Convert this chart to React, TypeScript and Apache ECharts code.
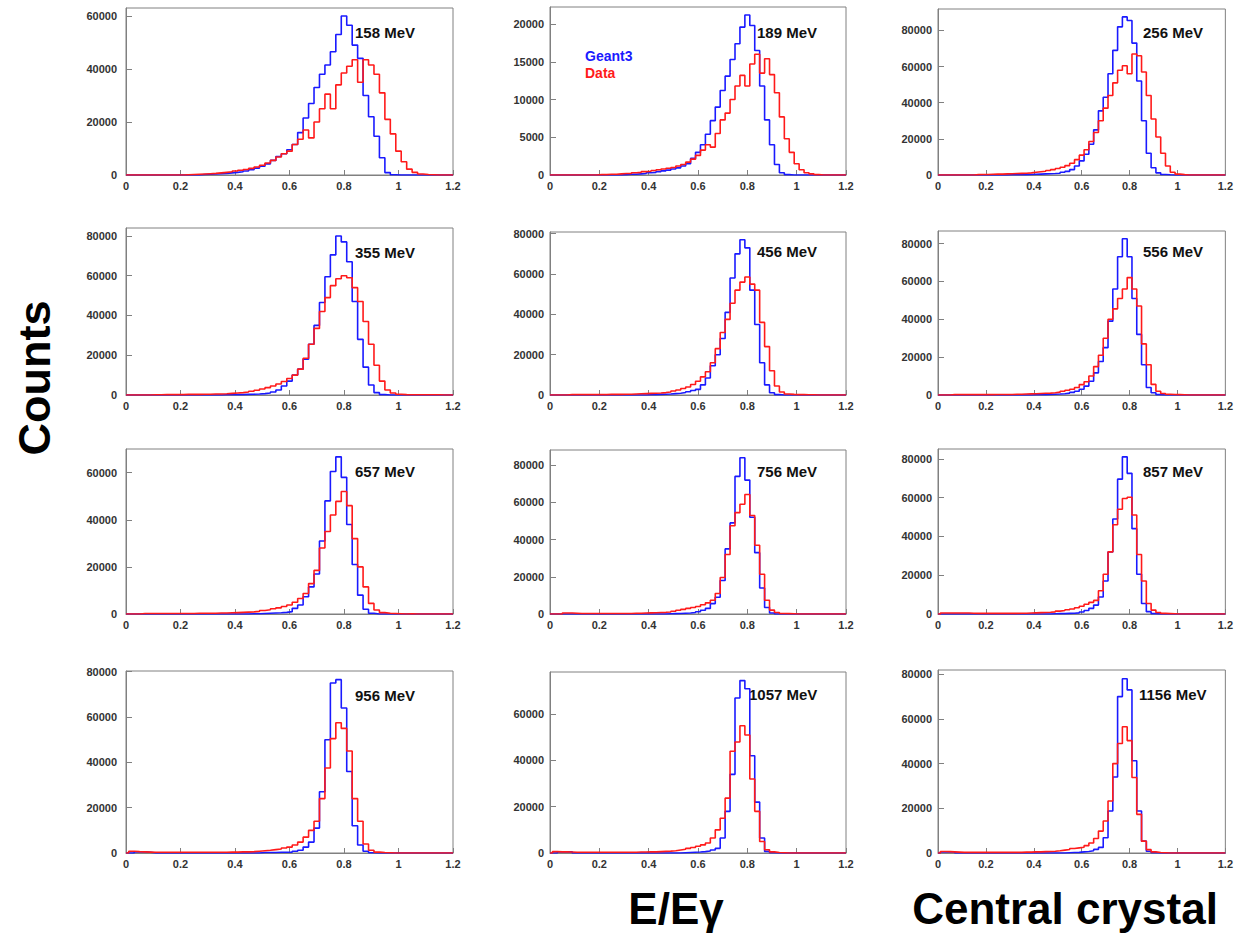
import React, { useEffect, useRef } from "react";
import * as echarts from "echarts";

// Histogram bins: centres at 0, 0.02, ..., 1.20 (61 bins, width 0.02). Counts in thousands.
const binWidth = 0.02;
const xTickLabels = ["0", "0.2", "0.4", "0.6", "0.8", "1", "1.2"];
const energyLabels = ["158 MeV", "189 MeV", "256 MeV", "355 MeV", "456 MeV", "556 MeV", "657 MeV", "756 MeV", "857 MeV", "956 MeV", "1057 MeV", "1156 MeV"];
const yTickStep = [20000, 5000, 20000, 20000, 20000, 20000, 20000, 20000, 20000, 20000, 20000, 20000];
const seriesNames = ["Geant3", "Data"];

const geant158 = [0,0,0,0,0,0,0,0,0,0, 0,0,0,0,0.2,0.3,0.4,0.5,0.6,0.8, 1.0,1.2,1.5,2.0,2.6,3.3,4.2,5.5,7.0,8.0, 9.5,11.5,16.0,21.5,27.0,33.0,38.0,41.5,46.5,53.0, 60.0,56.5,49.0,44.0,30.0,22.0,14.6,6.5,0.9,0.1, 0,0,0,0,0,0,0,0,0,0,0];
const data158 = [0,0,0,0,0,0,0,0,0,0, 0,0.1,0.2,0.3,0.4,0.5,0.6,0.8,1.0,1.2, 1.5,1.8,2.1,2.5,3.0,3.7,4.5,5.5,6.8,8.0, 9.0,11.5,13.5,17.0,14.0,20.0,25.0,30.5,25.0,34.0, 38.5,41.0,43.5,35.0,43.5,41.5,38.0,31.0,21.0,15.5, 9.0,5.0,2.2,1.0,0.4,0.2,0.1,0,0,0,0];

const geant189 = [0,0,0,0,0,0,0,0,0,0, 0,0,0,0,0,0.05,0.1,0.1,0.15,0.2, 0.3,0.35,0.45,0.55,0.65,0.8,0.95,1.2,1.5,2.2, 3.0,4.0,5.4,7.2,9.0,11.2,13.1,15.3,17.4,19.6, 21.2,19.8,16.5,11.8,7.3,4.0,1.4,0.3,0.05,0, 0,0,0,0,0,0,0,0,0,0,0];
const data189 = [0,0,0,0,0,0,0,0,0,0, 0.05,0.05,0.1,0.1,0.15,0.2,0.2,0.3,0.35,0.45, 0.5,0.6,0.7,0.8,0.9,1.0,1.2,1.4,1.7,2.1, 2.6,3.3,4.0,3.7,5.5,7.3,8.2,10.0,11.8,13.2, 11.8,14.7,16.0,13.5,15.4,13.3,10.9,7.7,4.8,3.0, 1.5,0.7,0.3,0.15,0.05,0,0,0,0,0,0];

const geant256 = [0,0,0,0,0,0,0,0,0,0, 0,0,0,0,0,0.1,0.1,0.2,0.2,0.3, 0.4,0.5,0.6,0.7,0.8,1.0,1.5,2.0,3.0,5.0, 7.8,11.5,17.0,25.0,35.5,43.0,56.0,69.0,82.0,87.5, 85.5,73.0,52.0,30.0,12.0,4.0,1.2,0.3,0.1,0, 0,0,0,0,0,0,0,0,0,0,0];
const data256 = [0,0,0,0,0,0,0,0,0.2,0.3, 0.3,0.4,0.5,0.5,0.6,0.7,0.8,0.9,1.0,1.2, 1.5,1.8,2.1,2.5,3.0,3.6,4.3,5.2,6.5,8.5, 11.0,14.0,18.5,23.5,30.0,37.0,44.0,51.0,58.0,60.5, 56.0,67.0,66.0,57.0,44.0,31.0,21.0,12.0,5.0,1.5, 0.5,0.2,0,0,0,0,0,0,0,0,0];

const geant355 = [0,0,0,0,0,0,0,0,0,0, 0,0,0,0,0,0,0,0,0.1,0.1, 0.2,0.2,0.3,0.4,0.5,0.7,1.0,1.5,2.5,4.5, 7.0,10.0,13.0,18.0,25.5,35.0,46.5,59.5,70.5,80.0, 77.0,67.0,47.0,28.0,14.0,5.0,1.2,0.2,0,0, 0,0,0,0,0,0,0,0,0,0,0];
const data355 = [0,0,0,0,0,0.1,0.1,0.2,0.2,0.2, 0.2,0.3,0.3,0.3,0.4,0.4,0.5,0.5,0.6,0.8, 1.0,1.2,1.5,1.9,2.4,3.0,3.7,4.5,5.5,6.8, 8.3,10.0,13.0,18.5,25.5,33.5,42.0,49.0,55.0,58.5, 60.0,59.0,54.0,47.0,37.0,25.5,15.0,7.0,2.5,1.0, 0.4,0.2,0.1,0.1,0.1,0.1,0.1,0.1,0,0,0];

const geant456 = [0,0,0,0,0,0,0,0,0,0, 0,0,0,0,0,0,0,0,0,0, 0.1,0.2,0.3,0.4,0.5,0.7,0.9,1.2,1.6,2.2, 2.8,5.0,8.4,14.5,20.0,28.0,41.0,58.0,70.0,77.0, 73.0,52.0,35.0,16.0,5.0,1.1,0.2,0,0,0, 0,0,0,0,0,0,0,0,0,0,0];
const data456 = [0,0,0,0,0.2,0.2,0.2,0.2,0.2,0.2, 0.2,0.2,0.3,0.3,0.3,0.4,0.4,0.5,0.6,0.7, 0.8,0.9,1.0,1.2,1.5,2.0,2.5,3.2,4.0,5.2, 6.8,9.0,11.5,16.0,23.0,31.0,37.5,45.5,52.0,56.0, 58.5,55.0,52.0,36.0,24.0,12.0,4.5,1.5,0.5,0.3, 0.2,0.2,0.1,0.1,0,0,0,0,0,0,0];

const geant556 = [0,0,0,0,0,0,0,0,0,0, 0,0,0,0,0,0,0,0,0,0, 0.1,0.1,0.2,0.3,0.4,0.5,0.7,1.0,1.4,2.0, 3.0,4.7,7.3,11.7,17.7,25.0,39.0,56.0,73.0,82.5, 73.0,51.0,32.0,16.0,4.0,1.2,0.2,0,0,0, 0,0,0,0,0,0,0,0,0,0,0];
const data556 = [0,0,0,0.2,0.2,0.2,0.2,0.2,0.2,0.2, 0.2,0.2,0.3,0.3,0.3,0.3,0.4,0.4,0.5,0.6, 0.7,0.8,0.9,1.0,1.2,1.5,2.0,2.5,3.0,4.0, 5.5,7.0,10.0,15.0,21.0,30.0,40.0,45.5,51.0,56.0, 62.0,56.0,47.0,27.0,16.0,5.6,2.0,0.8,0.4,0.3, 0.2,0.1,0,0,0,0,0,0,0,0,0];

const geant657 = [0,0,0,0,0,0,0,0,0,0, 0,0,0,0,0,0,0,0,0,0, 0,0,0,0.1,0.1,0.2,0.3,0.4,0.5,0.7, 1.0,2.4,3.8,7.3,11.5,17.0,31.0,48.0,60.5,66.7, 58.0,38.0,21.0,8.0,2.0,0.3,0,0,0,0, 0,0,0,0,0,0,0,0,0,0,0];
const data657 = [0,0,0,0.2,0.2,0.2,0.2,0.2,0.2,0.2, 0.2,0.2,0.2,0.3,0.3,0.3,0.3,0.4,0.4,0.5, 0.6,0.7,0.8,0.9,1.1,1.5,1.8,2.2,2.6,3.2, 3.8,5.0,6.6,8.7,12.9,18.5,28.0,35.0,42.0,47.8, 52.0,46.0,32.0,20.0,11.5,4.5,1.7,0.6,0.3,0.2, 0.1,0,0.1,0,0,0,0,0,0,0,0];

const geant756 = [0,0,0,0,0,0,0,0,0,0, 0,0,0,0,0,0,0,0,0,0, 0,0,0,0,0.1,0.2,0.3,0.4,0.5,0.8, 1.2,2.0,3.0,5.6,9.0,18.0,35.0,49.0,74.0,84.0, 72.0,52.0,33.0,14.0,3.5,0.5,0,0,0,0, 0,0,0,0,0,0,0,0,0,0,0];
const data756 = [0,0,0,0.5,0.5,0.4,0.3,0.3,0.3,0.3, 0.3,0.3,0.3,0.3,0.3,0.3,0.3,0.4,0.4,0.5, 0.6,0.7,0.8,0.9,1.1,1.5,2.0,2.5,3.0,3.5, 4.0,5.0,6.0,7.4,11.0,19.6,32.0,47.5,54.5,59.0, 64.3,53.0,37.0,21.4,7.4,2.1,0.8,0.3,0.2,0.1, 0,0,0,0,0,0,0,0,0,0,0];

const geant857 = [0,0,0,0,0,0,0,0,0,0, 0,0,0,0,0,0,0,0,0,0, 0,0,0,0,0.1,0.2,0.2,0.3,0.4,0.6, 1.0,1.8,2.9,4.6,8.8,17.0,32.0,49.0,69.5,81.0, 72.5,44.0,20.5,5.4,1.2,0.2,0,0,0,0, 0,0,0,0,0,0,0,0,0,0,0];
const data857 = [0,0.5,0.5,0.5,0.5,0.5,0.5,0.4,0.3,0.3, 0.3,0.3,0.3,0.3,0.3,0.3,0.3,0.4,0.4,0.5, 0.6,0.7,0.8,0.9,1.1,1.5,1.8,2.2,2.6,3.2, 4.0,5.0,6.0,7.0,12.0,20.5,32.0,46.0,54.0,59.5, 60.2,51.0,30.7,17.0,5.4,2.0,0.8,0.3,0.2,0.1, 0,0,0,0,0,0,0,0,0,0,0];

const geant956 = [0,0,0.5,0.5,0.3,0,0,0,0,0, 0,0,0,0,0,0,0,0,0,0, 0,0,0,0,0,0.2,0.2,0.2,0.3,0.3, 0.4,0.8,1.2,2.6,4.8,11.0,27.0,50.0,75.0,76.5, 64.0,36.0,12.0,3.5,0.8,0.1,0,0,0,0, 0,0,0,0,0,0,0,0,0,0,0];
const data956 = [0,0.8,0.6,0.5,0.4,0.3,0.3,0.3,0.3,0.3, 0.3,0.3,0.3,0.3,0.3,0.3,0.3,0.3,0.3,0.4, 0.4,0.5,0.5,0.6,0.8,1.0,1.2,1.5,1.8,2.2, 2.6,3.5,4.8,7.0,10.0,14.0,24.0,37.5,50.5,57.5, 55.0,45.0,24.0,14.0,4.0,1.2,0.4,0.2,0.1,0, 0,0,0,0,0,0,0,0,0,0,0];

const geant1057 = [0,0,0.5,0.5,0.5,0,0,0,0,0, 0,0,0,0,0,0,0,0,0,0, 0,0,0,0,0,0,0,0.1,0.2,0.3, 0.4,0.6,0.9,1.3,2.0,6.5,18.0,34.0,67.0,74.5, 71.0,42.0,22.0,6.5,0.7,0.1,0,0,0,0, 0,0,0,0,0,0,0,0,0,0,0];
const data1057 = [0,0.6,0.5,0.5,0.4,0.3,0.3,0.3,0.3,0.3, 0.3,0.3,0.3,0.3,0.3,0.3,0.3,0.3,0.4,0.4, 0.5,0.5,0.6,0.7,0.8,1.0,1.3,1.6,2.0,2.4, 2.9,3.5,4.3,6.5,10.0,15.0,23.7,44.0,48.0,55.0, 51.0,32.0,18.0,5.0,1.4,0.5,0.2,0.1,0,0, 0,0,0,0,0,0,0,0,0,0,0];

const geant1156 = [0,0.5,0.5,0.5,0,0,0,0,0,0, 0,0,0,0,0,0,0,0,0,0, 0,0,0,0,0,0,0,0.1,0.2,0.3, 0.5,0.7,1.0,1.6,2.5,6.8,18.8,34.0,70.0,78.0, 73.0,41.3,18.8,5.3,0.8,0.1,0,0,0,0, 0,0,0,0,0,0,0,0,0,0,0];
const data1156 = [0,0.7,0.6,0.5,0.4,0.3,0.3,0.3,0.3,0.3, 0.3,0.3,0.3,0.3,0.3,0.3,0.3,0.3,0.4,0.4, 0.5,0.5,0.6,0.7,0.8,1.0,1.3,1.6,2.0,2.3, 2.6,3.3,4.5,6.5,9.8,14.3,23.3,40.0,49.0,56.5, 50.3,33.8,17.3,5.3,1.5,0.5,0.2,0.1,0,0, 0,0,0,0,0,0,0,0,0,0,0];

const geantSets = [geant158, geant189, geant256, geant355, geant456, geant556, geant657, geant756, geant857, geant956, geant1057, geant1156];
const dataSets = [data158, data189, data256, data355, data456, data556, data657, data756, data857, data956, data1057, data1156];

// ---- layout (pixels) ----
const colLeft = [126, 550, 938];
const colRight = [453, 846, 1232];
const panelTop = [8, 7, 9, 228, 232, 231, 449, 450, 449, 671, 672, 670];
const rowBottom = [175, 395, 614, 853];
const labelPos = [
  [355, 32], [757, 32], [1143, 32],
  [355, 252], [757, 251], [1143, 251],
  [355, 471], [757, 471], [1143, 471],
  [355, 695], [749, 694], [1139, 694],
];
const BLUE = "#1a1aff";
const RED = "#ff1a1a";
const FONT = '"Liberation Sans", Arial, Helvetica, sans-serif';

function histPoints(vals: number[]) {
  const pts: number[][] = [];
  vals.forEach((v, k) => {
    const c = k * binWidth;
    const a = Math.max(0, Math.round((c - binWidth / 2) * 1000) / 1000);
    const b = Math.min(1.2, Math.round((c + binWidth / 2) * 1000) / 1000);
    pts.push([a, v * 1000], [b, v * 1000]);
  });
  return pts;
}

export default function App() {
  const ref = useRef<HTMLDivElement>(null);
  useEffect(() => {
    if (!ref.current) return;
    const chart = echarts.init(ref.current, undefined, { renderer: "svg" });
    const grids: any[] = [];
    const xAxes: any[] = [];
    const yAxes: any[] = [];
    const series: any[] = [];
    const graphics: any[] = [];
    for (let i = 0; i < 12; i++) {
      const r = Math.floor(i / 3);
      const c = i % 3;
      const top = panelTop[i];
      const bottom = rowBottom[r];
      grids.push({
        left: colLeft[c],
        top,
        width: colRight[c] - colLeft[c],
        height: bottom - top,
        show: true,
        borderColor: "#808080",
        borderWidth: 1,
        backgroundColor: "transparent",
        containLabel: false,
      });
      xAxes.push({
        type: "value",
        gridIndex: i,
        min: 0,
        max: 1.2,
        interval: 0.2,
        axisLine: { show: true, onZero: false, lineStyle: { color: "#808080", width: 1 } },
        axisTick: { show: true, inside: true, length: 5, lineStyle: { color: "#808080" } },
        splitLine: { show: false },
        axisLabel: {
          fontSize: 11,
          fontWeight: "bold",
          fontFamily: FONT,
          color: "#333",
          margin: 5,
          formatter: (v: number) => xTickLabels[Math.round(v / 0.2)] ?? "",
        },
      });
      const g = geantSets[i];
      const d = dataSets[i];
      const ymax = Math.max(...g, ...d) * 1000 * 1.05;
      const step = yTickStep[i];
      yAxes.push({
        type: "value",
        gridIndex: i,
        min: 0,
        max: ymax,
        interval: step,
        axisLine: { show: true, onZero: false, lineStyle: { color: "#808080", width: 1 } },
        axisTick: { show: true, inside: true, length: 6, lineStyle: { color: "#808080" } },
        splitLine: { show: false },
        axisLabel: {
          fontSize: 11,
          fontWeight: "bold",
          fontFamily: FONT,
          color: "#333",
          margin: c === 0 ? 9 : 6,
          showMaxLabel: false,
          formatter: (v: number) => (Math.abs(v % step) < 1e-6 ? String(Math.round(v)) : ""),
        },
      });
      series.push({
        name: seriesNames[0],
        type: "line",
        xAxisIndex: i,
        yAxisIndex: i,
        data: histPoints(g),
        symbol: "none",
        showSymbol: false,
        clip: true,
        silent: true,
        lineStyle: { color: BLUE, width: 1.6 },
      });
      series.push({
        name: seriesNames[1],
        type: "line",
        xAxisIndex: i,
        yAxisIndex: i,
        data: histPoints(d),
        symbol: "none",
        showSymbol: false,
        clip: true,
        silent: true,
        lineStyle: { color: RED, width: 1.6 },
      });
      graphics.push({
        type: "text",
        x: labelPos[i][0],
        y: labelPos[i][1],
        style: {
          text: energyLabels[i],
          fill: "#111",
          font: `bold 15px ${FONT}`,
          textAlign: "left",
          textVerticalAlign: "middle",
        },
      });
    }
    graphics.push(
      {
        type: "text",
        x: 585,
        y: 56,
        style: { text: seriesNames[0], fill: BLUE, font: `bold 14px ${FONT}`, textAlign: "left", textVerticalAlign: "middle" },
      },
      {
        type: "text",
        x: 585,
        y: 73,
        style: { text: seriesNames[1], fill: RED, font: `bold 14px ${FONT}`, textAlign: "left", textVerticalAlign: "middle" },
      },
      {
        type: "text",
        x: 34,
        y: 378,
        rotation: Math.PI / 2,
        style: { text: "Counts", fill: "#000", font: `bold 45px ${FONT}`, textAlign: "center", textVerticalAlign: "middle" },
      },
      {
        type: "text",
        x: 676,
        y: 908,
        style: { text: "E/Eγ", fill: "#000", font: `bold 44px ${FONT}`, textAlign: "center", textVerticalAlign: "middle" },
      },
      {
        type: "text",
        x: 1065,
        y: 908,
        style: { text: "Central crystal", fill: "#000", font: `bold 44px ${FONT}`, textAlign: "center", textVerticalAlign: "middle" },
      }
    );
    chart.setOption({
      animation: false,
      backgroundColor: "#ffffff",
      grid: grids,
      xAxis: xAxes,
      yAxis: yAxes,
      series,
      graphic: graphics,
    });
    return () => chart.dispose();
  }, []);
  return (
    <div
      ref={ref}
      style={{ position: "fixed", left: 0, top: 0, width: 1236, height: 937, background: "#fff" }}
    />
  );
}
